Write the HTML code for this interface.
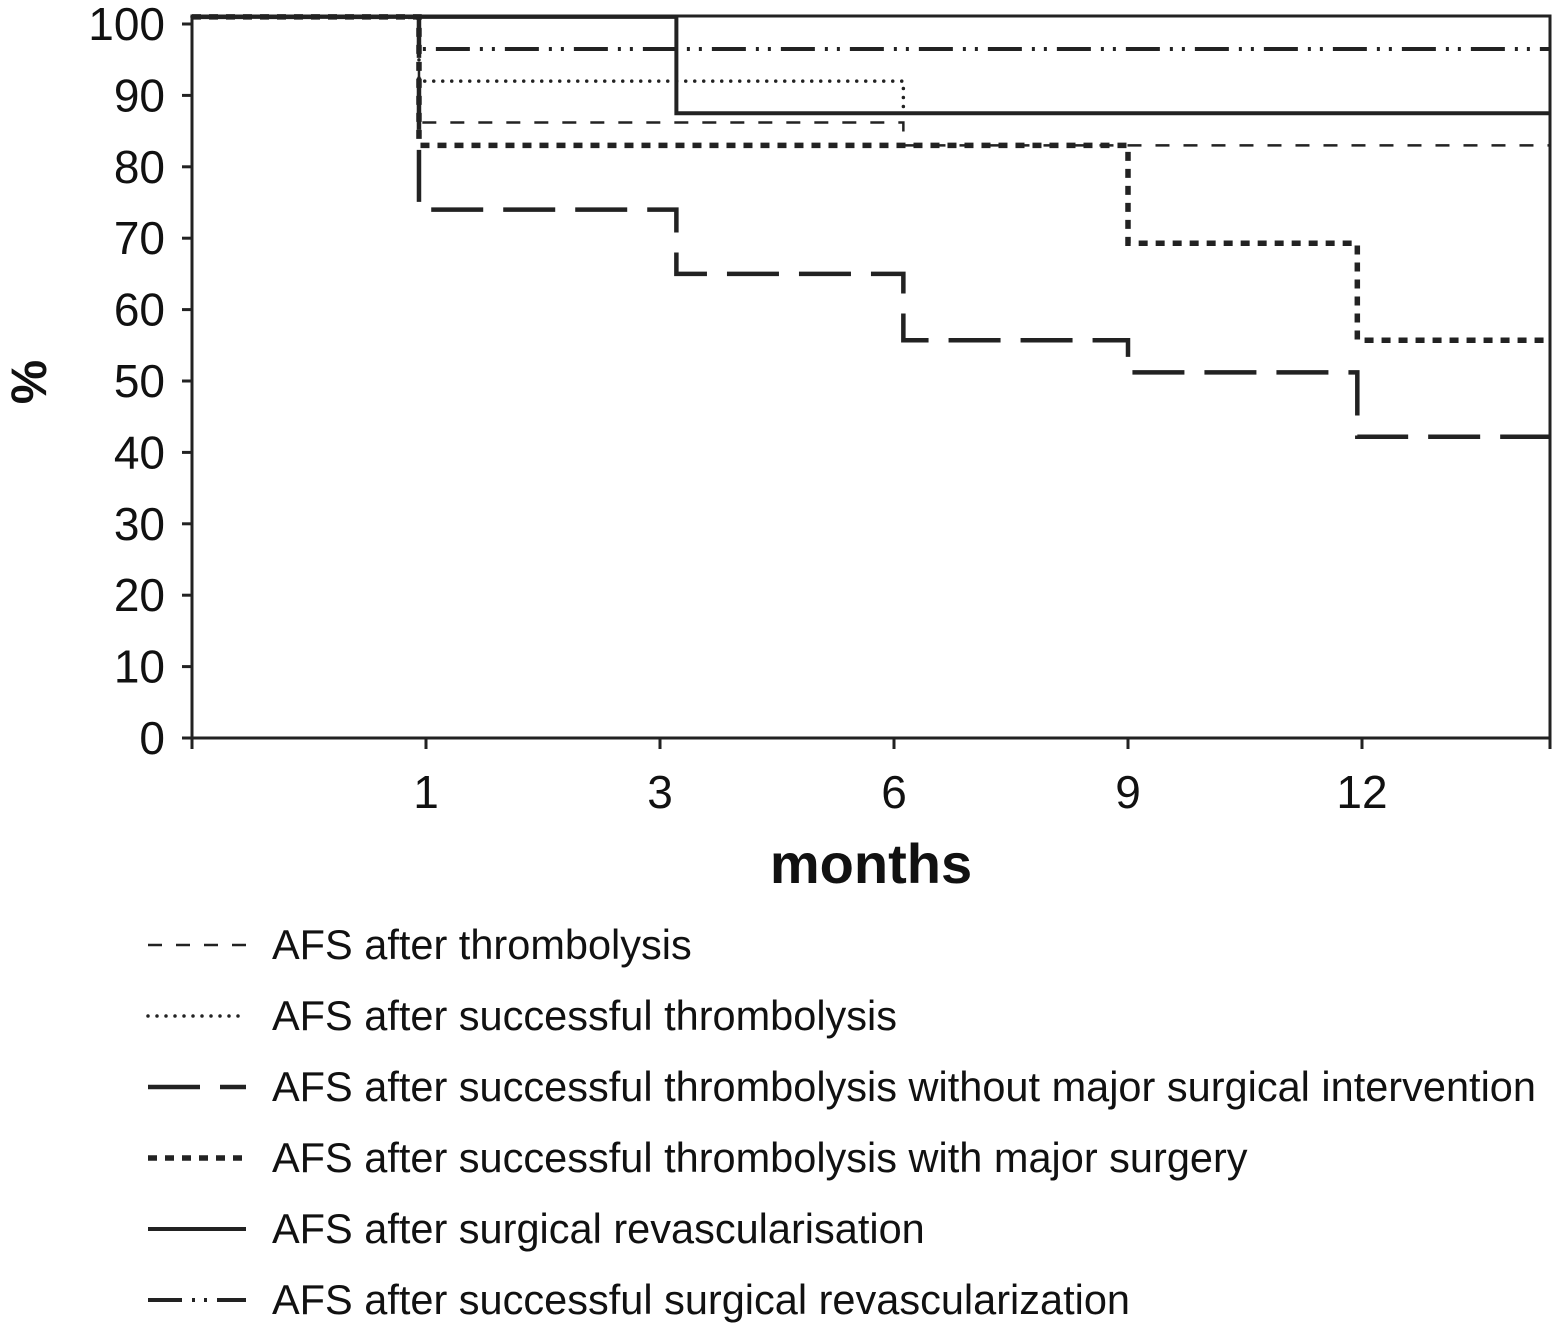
<!DOCTYPE html>
<html><head><meta charset="utf-8"><style>
html,body{margin:0;padding:0;background:#fff;}
svg{display:block;font-family:"Liberation Sans",Arial,sans-serif;}
</style></head><body>
<svg id="chart" width="1553" height="1328" viewBox="0 0 1553 1328" xmlns="http://www.w3.org/2000/svg"></svg>
<script>
const xTickLabels = ["1","3","6","9","12"];
const xTickIndex = [1,2,3,4,5];
const yTicks = [0,10,20,30,40,50,60,70,80,90,100];
// step curves: times (in tick-index units) and values (%)
const tThromb = [0,0.97,3.04,5.8];
const vThromb = [101,86.2,83,83];
const tSuccThromb = [0,0.97,3.04,5.8];
const vSuccThromb = [101,92,87.5,87.5];
const tNoSurg = [0,0.97,2.07,3.04,4.0,4.98,5.8];
const vNoSurg = [101,74,65,55.7,51.2,42.2,42.2];
const tWithSurg = [0,0.97,4.0,4.98,5.8];
const vWithSurg = [101,83,69.3,55.7,55.7];
const tSurg = [0,2.07,5.8];
const vSurg = [101,87.5,87.5];
const tSuccSurg = [0,0.97,5.8];
const vSuccSurg = [101,96.5,96.5];
const seriesNames = ["AFS after thrombolysis","AFS after successful thrombolysis","AFS after successful thrombolysis without major surgical intervention","AFS after successful thrombolysis with major surgery","AFS after surgical revascularisation","AFS after successful surgical revascularization"];

const NS="http://www.w3.org/2000/svg";
const svg=document.getElementById('chart');
const L=192,R=1550,T=16,B=738;
const X=i=>L+234*i;
const Y=v=>B-v*7.14;
function el(tag,attrs,parent){const e=document.createElementNS(NS,tag);for(const k in attrs)e.setAttribute(k,attrs[k]);(parent||svg).appendChild(e);return e;}

const frame=el('rect',{x:L,y:T,width:R-L,height:B-T,fill:'none',stroke:'#222','stroke-width':3});



yTicks.forEach(v=>{
  const t=el('line',{x1:182,x2:L,y1:Y(v),y2:Y(v),stroke:'#222','stroke-width':3});
  
  
  const tx=el('text',{x:165,y:Y(v)+16,'text-anchor':'end','font-size':46,fill:'#111'});
  tx.textContent=v;
  
  
});
[0].concat(xTickIndex).forEach(i=>{
  const t=el('line',{x1:X(i),x2:X(i),y1:B,y2:B+11,stroke:'#222','stroke-width':3});
  
  
});
const rt=el('line',{x1:R,x2:R,y1:B,y2:B+11,stroke:'#222','stroke-width':3});


xTickIndex.forEach((i,k)=>{
  const tx=el('text',{x:X(i),y:808,'text-anchor':'middle','font-size':46,fill:'#111'});
  tx.textContent=xTickLabels[k];
  
  
});
const xt=el('text',{x:871,y:883,'text-anchor':'middle','font-size':56,'font-weight':'bold',fill:'#111'});
xt.textContent='months';


const yt=el('text',{x:0,y:0,transform:'translate(46,382) rotate(-90)','text-anchor':'middle','font-size':50,'font-weight':'bold',fill:'#111'});
yt.textContent='%';



const styles=[
 {w:2.5,dash:'14 14',cap:'butt'},
 {w:3.5,dash:'0 9',cap:'round'},
 {w:4.5,dash:'52 20',cap:'butt'},
 {w:5.5,dash:'9 8',cap:'butt'},
 {w:4,dash:'',cap:'butt'},
 {w:4,dash:'34 10 3 9 3 10',cap:'butt'}
];
const data=[[tThromb,vThromb],[tSuccThromb,vSuccThromb],[tNoSurg,vNoSurg],[tWithSurg,vWithSurg],[tSurg,vSurg],[tSuccSurg,vSuccSurg]];
const names=['thrombolysis','successful-thrombolysis','no-major-surgery','with-major-surgery','surgical-revascularisation','successful-surgical-revascularization'];
data.forEach((d,k)=>{
  const [t,v]=d;
  let p='M'+X(t[0])+','+Y(v[0]);
  for(let i=1;i<t.length;i++){p+=' H'+X(t[i])+' V'+Y(v[i]);}
  const s=styles[k];
  const path=el('path',{d:p,fill:'none',stroke:'#222','stroke-width':s.w,'stroke-dasharray':s.dash,'stroke-linecap':s.cap});
  
  
});

seriesNames.forEach((n,k)=>{
  const y=945+71*k;
  const g=el('g',{});
  
  
  const s=styles[k];
  el('line',{x1:148,x2:246,y1:y,y2:y,stroke:'#222','stroke-width':s.w,'stroke-dasharray':s.dash,'stroke-linecap':s.cap},g);
  const tx=el('text',{x:272,y:y+14,'font-size':41.5,fill:'#111'},g);
  tx.textContent=n;
});
</script>
</body></html>
